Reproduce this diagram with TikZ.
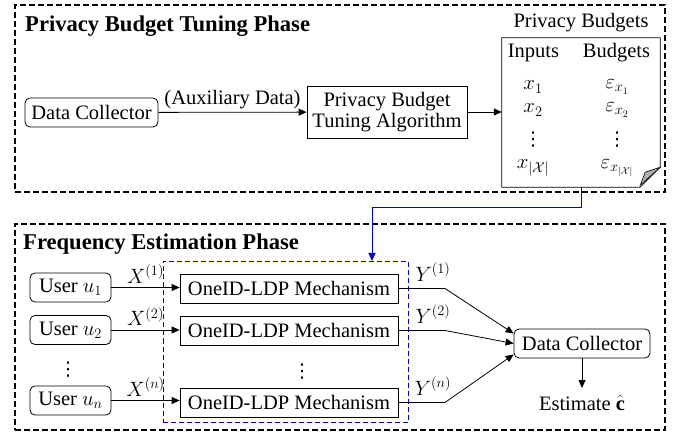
\documentclass[tikz,border=0pt]{standalone}
\usepackage{fontspec}
\setmainfont{Liberation Serif}
\newfontfamily\dejavu{DejaVu Sans}
\usetikzlibrary{arrows.meta}
\tikzset{
  txt/.style={font=\fontsize{20.5}{24}\selectfont, inner sep=0pt},
  dts/.style={font=\fontsize{19}{22}\dejavu, inner sep=0pt},
  ttl/.style={font=\fontsize{22.6}{26}\selectfont\bfseries, inner sep=0pt},
  rbox/.style={txt, draw, line width=0.8pt, rounded corners=5pt},
  sbox/.style={txt, draw, line width=0.8pt},
  frame/.style={draw, line width=1.6pt, dash pattern=on 6pt off 3pt},
  bframe/.style={draw=blue!80!black, line width=1pt, dash pattern=on 5pt off 3pt},
  conn/.style={line width=0.8pt, -{Triangle[length=8pt,width=7pt]}},
}
\begin{document}
\begin{tikzpicture}[x=1pt,y=-1pt]
\useasboundingbox (0,0) rectangle (682,435);
% frames
\node[frame, minimum width=650, minimum height=187, inner sep=0] (top) at (340,98.5) {};
\node[frame, minimum width=650, minimum height=206, inner sep=0] (bot) at (340,327) {};
\node[ttl, anchor=base west] (t1) at (25,32) {Privacy Budget Tuning Phase};
\node[ttl, anchor=base west] (t2) at (23,250) {Frequency Estimation Phase};
% top row
\node[rbox, minimum width=133, minimum height=29] (dc1) at (91.5,112.5) {Data Collector};
\node[sbox, minimum width=160, minimum height=52, align=center] (tun) at (387,112) {Privacy Budget\\[-3pt]Tuning Algorithm};
\node[inner sep=0, minimum width=158, minimum height=149] (doc) at (581,112.5) {};
\draw[line width=0.8pt] (doc.north west) -- (doc.north east) -- ([yshift=20]doc.south east) -- ([xshift=-20]doc.south east) -- (doc.south west) -- cycle;
\draw[line width=0.6pt, fill=gray!60] ([yshift=20]doc.south east) -- ([xshift=-15,yshift=15]doc.south east) -- ([xshift=-20,yshift=2]doc.south east) -- cycle;
\node[txt, anchor=base] (pb) at (581,28) {Privacy Budgets};
\node[txt] (inp) at (533.5,53) {Inputs};
\node[txt] (bud) at (616.5,53) {Budgets};
\node[txt] (x1) at (533,87) {$x_1$};
\node[txt] (x2) at (533,110) {$x_2$};
\node[dts] (xd) at (533,140) {⋮};
\node[txt] (xn) at (533,168) {$x_{|\mathcal{X}|}$};
\node[txt] (e1) at (617,87) {$\varepsilon_{x_1}$};
\node[txt] (e2) at (617,110) {$\varepsilon_{x_2}$};
\node[dts] (ed) at (617,140) {⋮};
\node[txt] (en) at (617,168) {$\varepsilon_{x_{|\mathcal{X}|}}$};
\draw[conn] (dc1) -- node[txt, above=3pt] (aux) {(Auxiliary Data)} (tun);
\draw[conn] (tun) -- (tun -| doc.west);
% bottom
\node[bframe, minimum width=245, minimum height=161, inner sep=0] (mbox) at (285.5,342) {};
\coordinate (bt) at (372,208);
\draw[blue!80!black, line width=1pt, -{Triangle[length=8pt,width=7pt]}] (doc.south) |- (bt) -- (bt |- mbox.north);
\node[rbox, minimum width=81, minimum height=29] (u1) at (70.5,287.5) {User $u_1$};
\node[rbox, minimum width=81, minimum height=29] (u2) at (70.5,330) {User $u_2$};
\node[dts] (ud) at (68,370) {⋮};
\node[rbox, minimum width=81, minimum height=29] (un) at (70.5,400.5) {User $u_n$};
\node[sbox, minimum width=218, minimum height=29] (m1) at (289,288.5) {OneID-LDP Mechanism};
\node[sbox, minimum width=218, minimum height=29] (m2) at (289,330.5) {OneID-LDP Mechanism};
\node[dts] (md) at (302,372) {⋮};
\node[sbox, minimum width=218, minimum height=29] (mn) at (289,402.5) {OneID-LDP Mechanism};
\draw[conn] (u1) -- node[txt, above=4pt] (lx1) {$X^{(1)}$} (u1 -| m1.west);
\draw[conn] (u2) -- node[txt, above=4pt] (lx2) {$X^{(2)}$} (u2 -| m2.west);
\draw[conn] (un) -- node[txt, above=4pt] (lxn) {$X^{(n)}$} (un -| mn.west);
\node[rbox, minimum width=136, minimum height=29] (dc2) at (582,343.5) {Data Collector};
\coordinate (k1) at (445,288.5);
\coordinate (k2) at (445,330.5);
\coordinate (kn) at (445,402.5);
\draw[conn] (m1.east) -- (k1) -- ([yshift=10]dc2.west);
\draw[conn] (m2.east) -- (k2) -- (dc2.west);
\draw[conn] (mn.east) -- (kn) -- ([yshift=-11]dc2.west);
\node[txt] (ly1) at (433,272) {$Y^{(1)}$};
\node[txt] (ly2) at (433,314) {$Y^{(2)}$};
\node[txt] (lyn) at (433,386) {$Y^{(n)}$};
\node[txt] (est) at (582,403) {Estimate $\hat{\mathbf{c}}$};
\draw[conn] (dc2) -- (dc2.south |- 0,388);
\end{tikzpicture}
\end{document}
